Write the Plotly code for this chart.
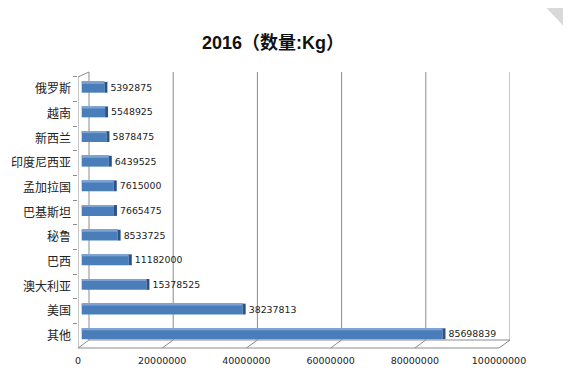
import plotly.graph_objects as go

# ---- data (top to bottom as shown) ----
countries = ["俄罗斯", "越南", "新西兰", "印度尼西亚", "孟加拉国", "巴基斯坦",
             "秘鲁", "巴西", "澳大利亚", "美国", "其他"]
quantities = [5392875, 5548925, 5878475, 6439525, 7615000, 7665475,
              8533725, 11182000, 15378525, 38237813, 85698839]
x_ticks = [0, 20000000, 40000000, 60000000, 80000000, 100000000]
title_text = "2016（数量:Kg）"

# ---- layout geometry (viewport pixels; page body has an 8px margin) ----
OFS = 8
VW, VH = 571, 382
W, H = VW - OFS, VH - 2 * OFS
L, R, T, B = 78, 510, 72, 348
BACK0 = 89                      # pixel of value 0 on back wall
XMAX = 100000000
PXM = (R - BACK0) / XMAX        # px per unit
xmin = -(BACK0 - L) / PXM
D = (BACK0 - L) / PXM           # depth offset (front vs back) in value units
BAR_SHIFT = (BACK0 - 81.7) / PXM
SIDE = 3 / PXM

def py(p):  # viewport pixel y -> paper y
    return (B - p) / (B - T)

def px(p):  # viewport pixel x -> paper x
    return (p - L) / (R - L)

grid_col = "#8c8c8c"
front_col = "#4a7ebb"
top_col = "#7ea3d3"
side_col = "#2d5286"
num_font = dict(family="DejaVu Sans, Verdana", size=9.5, color="#222222")

fig = go.Figure()
BW, OFF = 0.44, -0.30
fig.add_trace(go.Bar(
    y=countries, x=quantities, base=[-BAR_SHIFT] * len(quantities),
    orientation="h", width=BW, offset=OFF,
    marker=dict(color=front_col, line=dict(width=0)), hoverinfo="skip",
    showlegend=False))
fig.add_trace(go.Bar(
    y=countries, x=quantities, base=[-BAR_SHIFT] * len(quantities),
    orientation="h", width=0.08, offset=OFF,
    marker=dict(color=top_col, line=dict(width=0)), hoverinfo="skip",
    showlegend=False))
fig.add_trace(go.Bar(
    y=countries, x=[SIDE] * len(quantities),
    base=[q - BAR_SHIFT for q in quantities],
    orientation="h", width=BW, offset=OFF,
    marker=dict(color=side_col, line=dict(width=0)),
    text=[str(q) for q in quantities], textposition="outside",
    textfont=num_font,
    cliponaxis=False, hoverinfo="skip", showlegend=False))

# invisible trace to activate the front tick-label axis
fig.add_trace(go.Scatter(x=[0], y=[countries[0]], xaxis="x2", mode="markers",
                         marker=dict(opacity=0), hoverinfo="skip", showlegend=False))

shapes = []
lc = dict(color=grid_col, width=1)
yb = py(340)
for v in x_ticks:
    shapes.append(dict(type="line", xref="x", yref="paper", x0=v, x1=v,
                       y0=yb, y1=1, line=lc, layer="below"))
    shapes.append(dict(type="line", xref="x", yref="paper", x0=v, x1=v - D,
                       y0=yb, y1=0, line=lc, layer="below"))
# floor edges
shapes.append(dict(type="line", xref="x", yref="paper", x0=0, x1=XMAX,
                   y0=yb, y1=yb, line=lc, layer="below"))
shapes.append(dict(type="line", xref="x", yref="paper", x0=-D, x1=XMAX - D,
                   y0=0, y1=0, line=lc, layer="below"))
# left wall
shapes.append(dict(type="line", xref="x", yref="paper", x0=-D, x1=-D,
                   y0=0, y1=py(77), line=lc, layer="below"))
shapes.append(dict(type="line", xref="x", yref="paper", x0=-D, x1=0,
                   y0=py(77), y1=1, line=lc, layer="below"))
# corner decoration
shapes.append(dict(type="path", xref="paper", yref="paper",
                   path=f"M {px(537)} {py(-2)} L {px(573)} {py(-2)} L {px(573)} {py(36)} Z",
                   fillcolor="#d9d9d9", line=dict(width=0)))
shapes.append(dict(type="path", xref="paper", yref="paper",
                   path=f"M {px(557)} {py(-2)} L {px(573)} {py(-2)} L {px(573)} {py(24)} Z",
                   fillcolor="#1e88cf", line=dict(width=0)))

fig.update_layout(
    width=W, height=H,
    margin=dict(l=L - OFS, r=VW - R, t=T - OFS, b=H - (B - OFS), pad=0, autoexpand=False),
    paper_bgcolor="white", plot_bgcolor="white",
    barmode="overlay",
    title=dict(text=f"<b>{title_text}</b>", x=(273 - OFS) / W, xref="container",
               xanchor="center", y=1 - (43 - OFS) / H, yref="container", yanchor="middle",
               font=dict(family="Liberation Sans, Noto Sans CJK SC", size=18,
                         color="#111111")),
    xaxis=dict(range=[xmin, XMAX], showgrid=False, zeroline=False, automargin=False,
               showticklabels=False, showline=False, ticks=""),
    xaxis2=dict(range=[xmin + D, XMAX + D], overlaying="x", side="bottom",
                tickvals=x_ticks, ticktext=[str(v) for v in x_ticks], automargin=False,
                showgrid=False, zeroline=False, showline=False, ticks="",
                tickfont=num_font, ticklabelstandoff=5),
    yaxis=dict(type="category", categoryorder="array", categoryarray=countries,
               range=[10.5, -0.7], showgrid=False, zeroline=False, showline=False,
               automargin=False,
               ticks="outside", tickson="boundaries", ticklen=4, tickcolor=grid_col,
               tickfont=dict(family="Noto Sans CJK SC", size=12, color="#222222"),
               ticklabelstandoff=6),
    shapes=shapes,
)

fig.write_html("out.html")
